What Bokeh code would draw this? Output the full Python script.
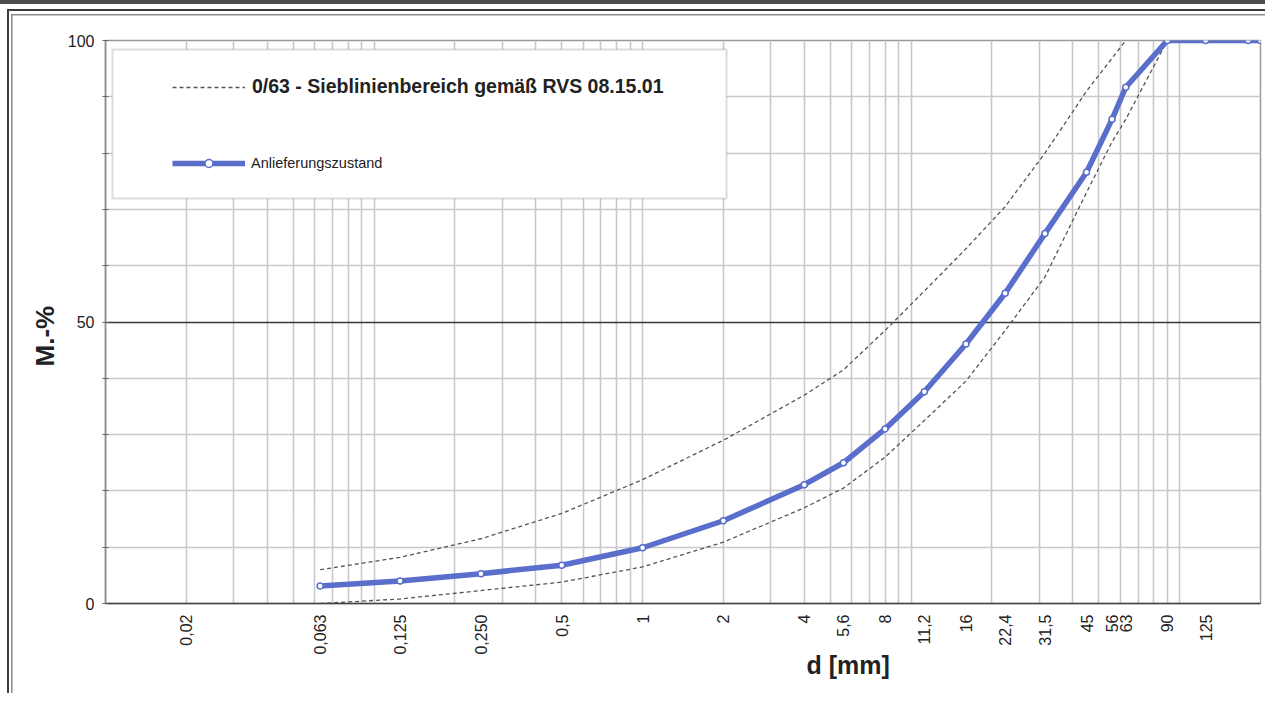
import math
from bokeh.plotting import figure
from bokeh.models import FixedTicker, Legend, LegendItem, BoxAnnotation, Title
from bokeh.embed import file_html
from bokeh.resources import INLINE

# ---- data ----
tick_values = [0.02, 0.063, 0.125, 0.25, 0.5, 1, 2, 4, 5.6, 8, 11.2, 16, 22.4, 31.5, 45, 56, 63, 90, 125]
tick_labels = ["0,02", "0,063", "0,125", "0,250", "0,5", "1", "2", "4", "5,6", "8", "11,2",
               "16", "22,4", "31,5", "45", "56", "63", "90", "125"]

d_sample = [0.063, 0.125, 0.25, 0.5, 1, 2, 4, 5.6, 8, 11.2, 16, 22.4, 31.5, 45, 56, 63, 90, 125, 180, 200]
pass_sample = [3.1, 4.0, 5.3, 6.8, 9.9, 14.7, 21.1, 25.0, 31.0, 37.6, 46.1, 55.1, 65.7, 76.6, 86.0, 91.7,
               100, 100, 100, 100]

d_upper = [0.063, 0.125, 0.25, 0.5, 1, 2, 4, 5.6, 8, 11.2, 16, 22.4, 31.5, 45, 63]
pass_upper = [6.0, 8.2, 11.5, 16.0, 22.0, 29.0, 37.0, 41.5, 48.5, 55.5, 63.0, 70.5, 80.0, 91.0, 100]

d_lower = [0.063, 0.125, 0.25, 0.5, 1, 2, 4, 5.6, 8, 11.2, 16, 22.4, 31.5, 45, 56, 63, 90]
pass_lower = [0.0, 0.8, 2.3, 3.8, 6.5, 10.9, 17.0, 20.5, 26.0, 32.5, 39.5, 48.5, 58.0, 73.0, 82.0, 86.0, 100]

y_major = [0, 50, 100]
y_minor = [10, 20, 30, 40, 60, 70, 80, 90]
x_grid = [m * 10 ** e for e in range(-2, 3) for m in range(1, 10) if 0.01 <= m * 10 ** e <= 200]

FONT = "Liberation Sans"
BLUE = "#5a6ecb"
DASH = "#555555"

p = figure(x_axis_type="log", x_range=(0.01, 200), y_range=(0, 100),
           frame_width=1155, frame_height=563,
           min_border_left=105, min_border_right=5, min_border_top=40, min_border_bottom=90,
           output_backend="svg", toolbar_location=None)

p.background_fill_color = "white"
p.border_fill_alpha = 0
p.outline_line_color = "#9a9a9a"
p.outline_line_width = 1.5

# sheet frame (dark band on top, double line top/left) painted behind the transparent border area
p.styles = {
    "border": "none",
    "outline": "none",
    "box-shadow": "none",
    "background": ("linear-gradient(#4d4d4d, #4d4d4d) 0px 0px / 100% 4px no-repeat, "
                   "linear-gradient(#3c3c3c, #3c3c3c) 7px 9px / 100% 2px no-repeat, "
                   "linear-gradient(#3c3c3c, #3c3c3c) 7px 9px / 2px 100% no-repeat, "
                   "linear-gradient(#8a8a8a, #8a8a8a) 11px 14px / 100% 1.5px no-repeat, "
                   "linear-gradient(#8a8a8a, #8a8a8a) 11px 14px / 1.5px 100% no-repeat, "
                   "#ffffff"),
}
p.stylesheets = [".bk-Canvas, .bk-layer, .bk-events, canvas, svg "
                 "{ border: none !important; outline: none !important; box-shadow: none !important; }"]

# grids
p.xgrid.ticker = FixedTicker(ticks=x_grid)
p.xgrid.grid_line_color = "#c8c8c8"
p.xgrid.grid_line_width = 1.6
p.ygrid.ticker = FixedTicker(ticks=y_major, minor_ticks=y_minor)
p.ygrid.grid_line_color = "#3a3a3a"
p.ygrid.grid_line_width = 1.4
p.ygrid.minor_grid_line_color = "#c8c8c8"
p.ygrid.minor_grid_line_width = 1.6

# x axis
p.xaxis.ticker = FixedTicker(ticks=tick_values)
p.xaxis.major_label_overrides = {v: t for v, t in zip(tick_values, tick_labels)}
p.xaxis.major_label_orientation = math.pi / 2
p.xaxis.major_label_text_font = FONT
p.xaxis.major_label_text_font_size = "16px"
p.xaxis.major_label_text_color = "#222222"
p.xaxis.major_label_standoff = 5
p.xaxis.major_tick_line_color = None
p.xaxis.minor_tick_line_color = None
p.xaxis.axis_line_color = "#444444"
p.xaxis.axis_line_width = 1.5

# y axis
p.yaxis.ticker = FixedTicker(ticks=y_major, minor_ticks=y_minor)
p.yaxis.major_label_text_font = FONT
p.yaxis.major_label_text_font_size = "16px"
p.yaxis.major_label_text_color = "#222222"
p.yaxis.major_label_standoff = 8
p.yaxis.major_tick_in = 3
p.yaxis.major_tick_out = 3
p.yaxis.minor_tick_in = 3
p.yaxis.minor_tick_out = 3
p.yaxis.major_tick_line_color = "#666666"
p.yaxis.minor_tick_line_color = "#666666"
p.yaxis.axis_line_color = "#8a8a8a"
p.yaxis.axis_line_width = 1.5

# axis titles, placed like the original
p.add_layout(Title(text="d [mm]", align="left", offset=701, standoff=-17,
                   text_font=FONT, text_font_style="bold", text_font_size="25px",
                   text_color="#222222"), "below")
p.add_layout(Title(text="M.-%", align="left", offset=237, standoff=9,
                   text_font=FONT, text_font_style="bold", text_font_size="26px",
                   text_color="#222222"), "left")

# data
r_up = p.line(d_upper, pass_upper, line_color=DASH, line_width=1.3, line_dash="4 3")
r_lo = p.line(d_lower, pass_lower, line_color=DASH, line_width=1.3, line_dash="4 3")
r_blue = p.line(d_sample, pass_sample, line_color=BLUE, line_width=5.5)
r_pts = p.scatter(d_sample, pass_sample, marker="circle", size=6, fill_color="white",
                  line_color=BLUE, line_width=1.5)

# legend box
box = BoxAnnotation(left=7, right=621, top=554, bottom=405,
                    left_units="screen", right_units="screen", top_units="screen", bottom_units="screen",
                    fill_color="white", fill_alpha=1.0, line_color="#8a8a8a", line_width=2)
p.add_layout(box)

leg1 = Legend(items=[LegendItem(label="0/63 - Sieblinienbereich gemäß RVS 08.15.01", renderers=[r_up])],
              location=(67, 505), padding=0, margin=0, border_line_color=None,
              background_fill_alpha=0, glyph_width=73, glyph_height=20, label_height=20,
              label_standoff=7, label_text_font=FONT, label_text_font_style="bold",
              label_text_font_size="19.5px", label_text_color="#222222")
leg2 = Legend(items=[LegendItem(label="Anlieferungszustand", renderers=[r_blue, r_pts])],
              location=(67, 430), padding=0, margin=0, border_line_color=None,
              background_fill_alpha=0, glyph_width=73, glyph_height=20, label_height=20,
              label_standoff=6, label_text_font=FONT,
              label_text_font_size="14.5px", label_text_color="#222222")
p.add_layout(leg1)
p.add_layout(leg2)

open("out.html", "w").write(file_html(p, INLINE))
